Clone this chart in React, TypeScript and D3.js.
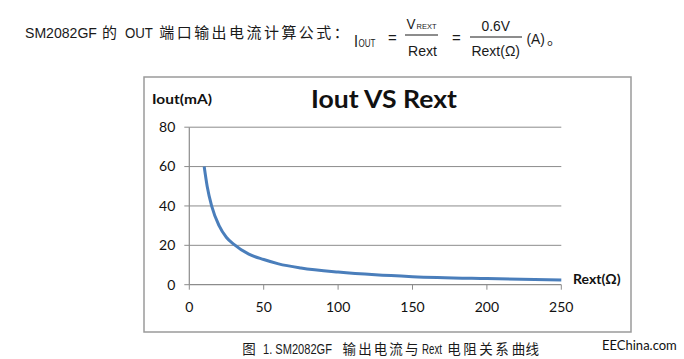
import React from "react";
import * as d3 from "d3";

const rextValues = [10, 12, 15, 20, 25, 30, 40, 50, 60, 75, 100, 125, 150, 200, 250];
const ioutValues = [60, 50, 40, 30, 24, 20.5, 15.5, 12.8, 10.6, 8.5, 6.4, 5.0, 4.1, 3.1, 2.4];
const xTicks = [0, 50, 100, 150, 200, 250];
const yTicks = [0, 20, 40, 60, 80];

const W = 684;
const H = 359;
const plot = { left: 189.3, right: 561.3, top: 127.2, bottom: 284.7 };

const chartFont = "Lato, 'Open Sans', 'DejaVu Sans', sans-serif";
const arialFont = "'Liberation Sans', Arial, sans-serif";
const cjkFont = "'Noto Sans CJK SC', sans-serif";
const ink = "#1a1a1a";

type Seg = { t: string; x: number; w: number; cjk?: boolean };

const headerSegs: Seg[] = [
  { t: "SM2082GF", x: 25, w: 72 },
  { t: "的", x: 101, w: 17, cjk: true },
  { t: "OUT", x: 125, w: 28 },
  { t: "端口输出电流计算公式：", x: 158, w: 192, cjk: true },
];

const captionSegs: Seg[] = [
  { t: "图", x: 240.5, w: 17, cjk: true },
  { t: "1. SM2082GF", x: 263, w: 69 },
  { t: "输出电流与", x: 341.5, w: 78, cjk: true },
  { t: "Rext", x: 422, w: 20 },
  { t: "电阻关系", x: 446, w: 64, cjk: true },
  { t: "曲线", x: 511.5, w: 27.5, cjk: true },
];

let measureCtx: CanvasRenderingContext2D | null = null;
function measure(text: string, fs: number, family: string, weight = "normal"): number {
  if (!measureCtx && typeof document !== "undefined") {
    measureCtx = document.createElement("canvas").getContext("2d");
  }
  if (!measureCtx) return text.length * fs * 0.55;
  measureCtx.font = `${weight} ${fs}px ${family}`;
  return measureCtx.measureText(text).width || text.length * fs * 0.55;
}

function FitText(props: {
  x: number;
  y: number;
  w: number;
  fs: number;
  family: string;
  weight?: string;
  fill?: string;
  children: string;
}) {
  const { x, y, w, fs, family, weight = "normal", fill = ink, children } = props;
  const natural = measure(children, fs, family, weight);
  const sx = w / natural;
  return (
    <text
      transform={`translate(${x},${y}) scale(${sx},1)`}
      fontSize={fs}
      fontFamily={family}
      fontWeight={weight}
      fill={fill}
    >
      {children}
    </text>
  );
}

export default function App() {
  const x = d3.scaleLinear().domain([0, 250]).range([plot.left, plot.right]);
  const y = d3.scaleLinear().domain([0, 80]).range([plot.bottom, plot.top]);
  const pts: [number, number][] = rextValues.map((r, i) => [r, ioutValues[i]]);
  const line = d3
    .line<[number, number]>()
    .x((d) => x(d[0]))
    .y((d) => y(d[1]))
    .curve(d3.curveMonotoneX);

  const seg = (s: Seg, baseline: number, fs: number, cfs: number, key: string) => {
    if (s.cjk) {
      const chars = Array.from(s.t);
      const pitch = s.w / chars.length;
      return (
        <g key={key}>
          {chars.map((c, i) => (
            <text
              key={i}
              x={s.x + i * pitch + pitch / 2}
              y={baseline}
              fontSize={cfs}
              fontFamily={cjkFont}
              textAnchor="middle"
              fill={ink}
            >
              {c}
            </text>
          ))}
        </g>
      );
    }
    return (
      <FitText key={key} x={s.x} y={baseline} w={s.w} fs={fs} family={arialFont}>
        {s.t}
      </FitText>
    );
  };

  return (
    <svg
      width={W}
      height={H}
      style={{ position: "absolute", left: 0, top: 0, background: "#fff" }}
    >
      {/* Formula header */}
      <g>
        {headerSegs.map((s, i) => seg(s, 37.5, 15.5, 15, "h" + i))}
        <FitText x={354} y={46.5} w={4} fs={16} family={arialFont}>I</FitText>
        <FitText x={358.5} y={46.5} w={17} fs={10.5} family={arialFont}>OUT</FitText>
        <text x={388} y={43} fontSize={15} fontFamily={arialFont} fill={ink}>=</text>
        <FitText x={406.5} y={28.5} w={9} fs={14} family={arialFont}>V</FitText>
        <FitText x={416.5} y={28.5} w={20} fs={8} family={arialFont}>REXT</FitText>
        <line x1={405} x2={438} y1={35} y2={35} stroke={ink} strokeWidth={1} />
        <FitText x={408} y={55.5} w={29} fs={15.5} family={arialFont}>Rext</FitText>
        <text x={452} y={43} fontSize={15} fontFamily={arialFont} fill={ink}>=</text>
        <FitText x={481.5} y={30.5} w={28.5} fs={15.5} family={arialFont}>0.6V</FitText>
        <line x1={470} x2={522} y1={37} y2={37} stroke={ink} strokeWidth={1} />
        <FitText x={471.5} y={55.5} w={48.5} fs={15.5} family={arialFont}>Rext(Ω)</FitText>
        <FitText x={526.5} y={44} w={18.5} fs={15.5} family={arialFont}>(A)</FitText>
        <text x={547} y={44} fontSize={15} fontFamily={cjkFont} fill={ink}>。</text>
      </g>

      {/* Chart frame */}
      <rect x={144} y={77} width={487} height={255} fill="#fff" stroke="#9a9a9a" strokeWidth={1.5} />

      {/* Gridlines */}
      {yTicks.filter((t) => t > 0).map((t) => (
        <line key={"g" + t} x1={plot.left} x2={plot.right} y1={y(t)} y2={y(t)} stroke="#8c8c8c" strokeWidth={1} />
      ))}

      {/* Axes */}
      <line x1={plot.left} x2={plot.left} y1={plot.top} y2={plot.bottom} stroke="#8c8c8c" strokeWidth={1.2} />
      <line x1={plot.left} x2={plot.right} y1={plot.bottom} y2={plot.bottom} stroke="#8c8c8c" strokeWidth={1.2} />
      {yTicks.map((t) => (
        <g key={"yt" + t}>
          <line x1={plot.left - 5} x2={plot.left} y1={y(t)} y2={y(t)} stroke="#8c8c8c" strokeWidth={1} />
          <text x={plot.left - 14} y={y(t)} dy="0.35em" fontSize={14} textAnchor="end" fontFamily={chartFont} fill="#111">
            {t}
          </text>
        </g>
      ))}
      {xTicks.map((t) => (
        <g key={"xt" + t}>
          <line x1={x(t)} x2={x(t)} y1={plot.bottom} y2={plot.bottom + 5} stroke="#8c8c8c" strokeWidth={1} />
          <text x={x(t)} y={307} dy="0.35em" fontSize={14} textAnchor="middle" fontFamily={chartFont} fill="#111">
            {t}
          </text>
        </g>
      ))}

      {/* Series */}
      <path d={line(pts) ?? ""} fill="none" stroke="#4a7ebb" strokeWidth={3} strokeLinejoin="round" />

      {/* Titles */}
      <FitText x={311} y={108.3} w={147} fs={25.5} weight="bold" family={chartFont} fill="#111">
        Iout VS Rext
      </FitText>
      <FitText x={152} y={104} w={60} fs={13.5} weight="bold" family={chartFont} fill="#111">
        Iout(mA)
      </FitText>
      <text x={573} y={279} dy="0.35em" fontSize={14} fontWeight="bold" fontFamily={chartFont} fill="#111">
        Rext(Ω)
      </text>

      {/* Caption */}
      {captionSegs.map((s, i) => seg(s, 354, 14, 13.5, "c" + i))}
      <text x={602} y={350} fontSize={13} fontFamily={chartFont} fill="#111">
        EEChina.com
      </text>
    </svg>
  );
}
